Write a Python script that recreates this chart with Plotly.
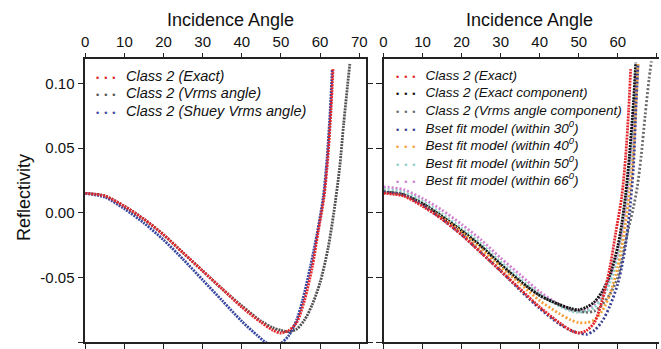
import plotly.graph_objects as go

# ---------------- data ----------------
tick_angles = [0, 10, 20, 30, 40, 50, 60, 70]
tick_refl = [-0.10, -0.05, 0.00, 0.05, 0.10]
tick_refl_text = ["-0.10", "-0.05", "0.00", "0.05", "0.10"]

# Left panel
ang_exact = [0, 5, 10, 15, 20, 25, 30, 35, 40, 45, 48, 50, 52, 54, 56, 58, 59.5, 61, 62, 62.8, 63.3]
r_exact = [0.015, 0.013, 0.005, -0.005, -0.017, -0.031, -0.045, -0.059, -0.073, -0.085, -0.091,
           -0.093, -0.091, -0.085, -0.068, -0.042, -0.015, 0.012, 0.043, 0.080, 0.111]

ang_vrms = [0, 5, 10, 15, 20, 25, 30, 35, 40, 45, 48, 50, 52, 54, 56, 58, 60, 62, 63.5, 65, 66, 67, 67.6]
r_vrms = [0.015, 0.013, 0.005, -0.005, -0.017, -0.031, -0.045, -0.059, -0.072, -0.084, -0.089,
          -0.091, -0.092, -0.090, -0.083, -0.071, -0.054, -0.028, 0.000, 0.035, 0.068, 0.098, 0.115]

ang_shuey = [0, 5, 10, 15, 20, 25, 30, 35, 40, 44, 46, 48, 50, 52, 54, 55.5, 57.5, 59.3, 60.8, 61.8, 62.6, 63.1]
r_shuey = [0.015, 0.012, 0.003, -0.008, -0.021, -0.036, -0.052, -0.068, -0.084, -0.095, -0.100,
           -0.103, -0.101, -0.095, -0.083, -0.068, -0.042, -0.015, 0.012, 0.043, 0.080, 0.111]

# Right panel
ang_ec = [0, 5, 10, 15, 20, 25, 30, 35, 40, 45, 48, 50, 52, 54, 56, 58, 60, 61, 62, 63, 64, 64.6]
r_ec = [0.016, 0.014, 0.007, -0.003, -0.014, -0.026, -0.040, -0.053, -0.064, -0.071, -0.074,
        -0.075, -0.073, -0.069, -0.061, -0.048, -0.026, -0.009, 0.014, 0.045, 0.085, 0.116]

ang_vc = [0, 5, 10, 15, 20, 25, 30, 35, 40, 45, 48, 50, 52, 54, 56, 58, 60, 61, 62, 63, 64, 65, 66, 67, 68, 68.6]
r_vc = [0.016, 0.014, 0.007, -0.003, -0.014, -0.026, -0.040, -0.053, -0.064, -0.071, -0.075,
        -0.076, -0.077, -0.076, -0.071, -0.063, -0.050, -0.037, -0.022, -0.009, 0.004, 0.020,
        0.044, 0.075, 0.103, 0.117]

ang_b30 = [0, 5, 10, 15, 20, 25, 30, 35, 40, 45, 48, 50, 52, 54, 56, 58, 60, 61, 62, 63, 64, 64.7, 65.2]
r_b30 = [0.016, 0.014, 0.006, -0.005, -0.017, -0.031, -0.045, -0.060, -0.074, -0.086, -0.091,
         -0.093, -0.094, -0.091, -0.084, -0.072, -0.055, -0.042, -0.025, 0.000, 0.035, 0.084, 0.115]

ang_b40 = [0, 5, 10, 15, 20, 25, 30, 35, 40, 45, 48, 50, 52, 54, 56, 58, 60, 61, 62, 63, 64, 64.7, 65.2]
r_b40 = [0.016, 0.014, 0.006, -0.004, -0.015, -0.028, -0.042, -0.055, -0.068, -0.078, -0.083,
         -0.085, -0.085, -0.083, -0.076, -0.063, -0.042, -0.027, -0.008, 0.015, 0.045, 0.087, 0.115]

ang_b50 = [0, 5, 10, 15, 20, 25, 30, 35, 40, 45, 48, 50, 52, 54, 56, 58, 60, 61, 62, 63, 64, 64.8]
r_b50 = [0.018, 0.016, 0.009, -0.001, -0.012, -0.024, -0.038, -0.051, -0.063, -0.072, -0.076,
         -0.077, -0.076, -0.073, -0.066, -0.054, -0.035, -0.020, 0.000, 0.030, 0.070, 0.115]

ang_b66 = [0, 5, 10, 15, 20, 25, 30, 35, 40, 45, 48, 50, 52, 54, 56, 58, 60, 61, 62, 63, 64, 64.6]
r_b66 = [0.020, 0.018, 0.011, 0.002, -0.009, -0.021, -0.035, -0.048, -0.061, -0.071, -0.075,
         -0.076, -0.075, -0.071, -0.063, -0.050, -0.030, -0.015, 0.005, 0.035, 0.075, 0.110]

left_names = ["Class 2 (Exact)", "Class 2 (Vrms angle)", "Class 2 (Shuey Vrms angle)"]
right_names = ["Class 2 (Exact)", "Class 2 (Exact component)", "Class 2 (Vrms angle component)",
               "Bset fit model (within 30<sup>0</sup>)", "Best fit model (within 40<sup>0</sup>)",
               "Best fit model (within 50<sup>0</sup>)", "Best fit model (within 66<sup>0</sup>)"]

# ---------------- styles ----------------
RED = "#e3262b"
GRAY_L = "#505050"
BLUE = "#3848a0"
BLACK = "#111111"
GRAY_R = "#6a6a6a"
NAVY = "#3a3f90"
ORANGE = "#f2a03c"
CYAN = "#8ccfc6"
PINK = "#d27fd2"

left_colors = [RED, GRAY_L, BLUE]
right_colors = [RED, BLACK, GRAY_R, NAVY, ORANGE, CYAN, PINK]

FONT = "Liberation Sans, Arial, sans-serif"
W, H = 661, 349

fig = go.Figure()


def curve(x, y, color, xa, ya, dash="2px,1px", width=2.8):
    fig.add_trace(go.Scatter(
        x=x, y=y, mode="lines", xaxis=xa, yaxis=ya, showlegend=False,
        line=dict(color=color, width=width, dash=dash, shape="spline", smoothing=0.8),
        hoverinfo="skip"))


# left panel
curve(ang_vrms, r_vrms, GRAY_L, "x", "y")
curve(ang_shuey, r_shuey, BLUE, "x", "y")
curve(ang_exact, r_exact, RED, "x", "y")

# right panel
curve(ang_b66, r_b66, PINK, "x2", "y2", dash="2px,2px")
curve(ang_b50, r_b50, CYAN, "x2", "y2", dash="2px,2px")
curve(ang_vc, r_vc, GRAY_R, "x2", "y2", dash="2px,2px")
curve(ang_ec, r_ec, BLACK, "x2", "y2")
curve(ang_b40, r_b40, ORANGE, "x2", "y2", dash="2px,2px")
curve(ang_b30, r_b30, NAVY, "x2", "y2", dash="2px,2px")
curve(ang_exact, r_exact, RED, "x2", "y2")

# ---------------- legends (as text rows) ----------------
NB = "\u00a0"
annotations = []


def legend_rows(names, colors, x_px, y0_px, dy_px, size):
    for i, (name, col) in enumerate(zip(names, colors)):
        dots = f"<span style='color:{col};font-size:9px'>•{NB}{NB}•{NB}{NB}•{NB}</span>"
        annotations.append(dict(
            text=f"{dots}{NB}{NB}<i>{name}</i>", x=x_px / W, y=1 - (y0_px + i * dy_px) / H,
            xref="paper", yref="paper", xanchor="left", yanchor="middle", showarrow=False,
            font=dict(family=FONT, size=size, color="#111")))


legend_rows(left_names, left_colors, 91, 76.5, 17.5, 14.5)
legend_rows(right_names, right_colors, 394, 76.5, 17.3, 13.5)

for xc in (229, 530):
    annotations.append(dict(text="Incidence Angle", x=xc / W, y=1 - 20 / H, xref="paper",
                            yref="paper", xanchor="center", yanchor="middle", showarrow=False,
                            font=dict(family=FONT, size=18, color="#111")))
annotations.append(dict(text="Reflectivity", x=20 / W, y=1 - 199 / H, xref="paper", yref="paper",
                        xanchor="center", yanchor="middle", textangle=-90, showarrow=False,
                        font=dict(family=FONT, size=18, color="#111")))

# ---------------- layout ----------------
ydom = [4 / H, 289 / H]
axis_common = dict(showgrid=False, zeroline=False, showline=True, linecolor="#222",
                   linewidth=1.5, ticks="outside", tickcolor="#222", tickwidth=1.2,
                   tickfont=dict(family=FONT, size=15, color="#111"))

xcommon = dict(axis_common, side="top", tickmode="array", tickvals=tick_angles,
               ticklen=5, mirror="ticks")

fig.update_layout(
    width=W, height=H,
    margin=dict(l=0, r=0, t=0, b=0),
    paper_bgcolor="white", plot_bgcolor="white",
    font=dict(family=FONT, color="#111"),
    showlegend=False,
    xaxis=dict(xcommon, domain=[82 / W, 365 / W], range=[0, 71.65], anchor="y"),
    yaxis=dict(axis_common, domain=ydom, range=[-0.10, 0.1185], anchor="x",
               tickmode="array", tickvals=tick_refl, ticktext=tick_refl_text,
               ticklen=6, mirror="ticks"),
    xaxis2=dict(xcommon, domain=[383 / W, 1.0], range=[0, 70.56], anchor="y2"),
    yaxis2=dict(axis_common, domain=ydom, range=[-0.10, 0.1185], anchor="x2",
                tickmode="array", tickvals=tick_refl, showticklabels=False,
                ticklen=6, mirror=False),
    annotations=annotations,
)

fig.write_html("out.html")
